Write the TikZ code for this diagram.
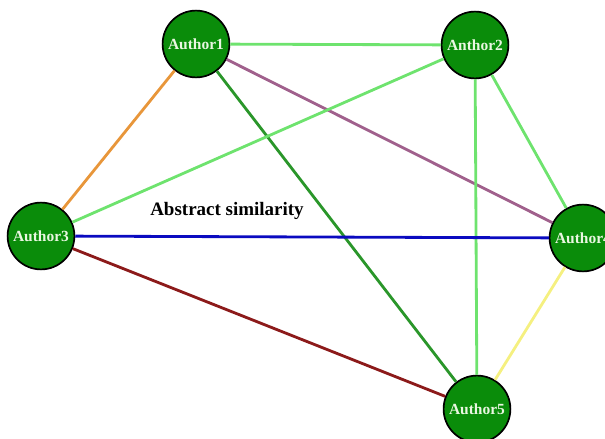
\documentclass[tikz,border=0pt]{standalone}
\usepackage{fontspec}
\setmainfont{Liberation Serif}
\definecolor{nodegreen}{HTML}{0A8C0A}
\definecolor{lightgreen}{HTML}{6EE36E}
\definecolor{darkgreen}{HTML}{2A962A}
\definecolor{edgeorange}{HTML}{E8963A}
\definecolor{mauve}{HTML}{A0608C}
\definecolor{edgeblue}{HTML}{0A0AC0}
\definecolor{darkred}{HTML}{8C1A1A}
\definecolor{paleyellow}{HTML}{F5F080}
\definecolor{labelwhite}{HTML}{EAF7E2}
\tikzset{
  author/.style={circle, draw=black, line width=1.2pt, fill=nodegreen,
    minimum size=1.67cm, inner sep=0pt, text=labelwhite,
    font=\fontsize{11}{12}\selectfont\bfseries},
  link/.style={line width=2pt}
}
\begin{document}
\begin{tikzpicture}[x=0.025cm, y=-0.025cm]
    \useasboundingbox (0,0) rectangle (605,439);
    \clip (0,0) rectangle (605,439);

    % Author nodes
    \node[author] (a1) at (196,44) {Author1};
    \node[author] (a2) at (475,45) {Anthor2};
    \node[author] (a3) at (41,236) {Author3};
    \node[author] (a4) at (583,238) {Author4};
    \node[author] (a5) at (477,409) {Author5};

    % Similarity links
    \draw[link, lightgreen] (a1) -- (a2);
    \draw[link, edgeorange] (a1) -- (a3);
    \draw[link, mauve] (a1) -- (a4);
    \draw[link, darkgreen] (a1) -- (a5);
    \draw[link, lightgreen] (a2) -- (a3);
    \draw[link, lightgreen] (a2) -- (a4);
    \draw[link, lightgreen] (a2) -- (a5);
    \draw[link, edgeblue] (a3) -- (a4);
    \draw[link, darkred] (a3) -- (a5);
    \draw[link, paleyellow] (a4) -- (a5);

    % Label
    \node[font=\fontsize{13.5}{15}\selectfont\bfseries] (lbl) at (227,211) {Abstract similarity};
\end{tikzpicture}
\end{document}
